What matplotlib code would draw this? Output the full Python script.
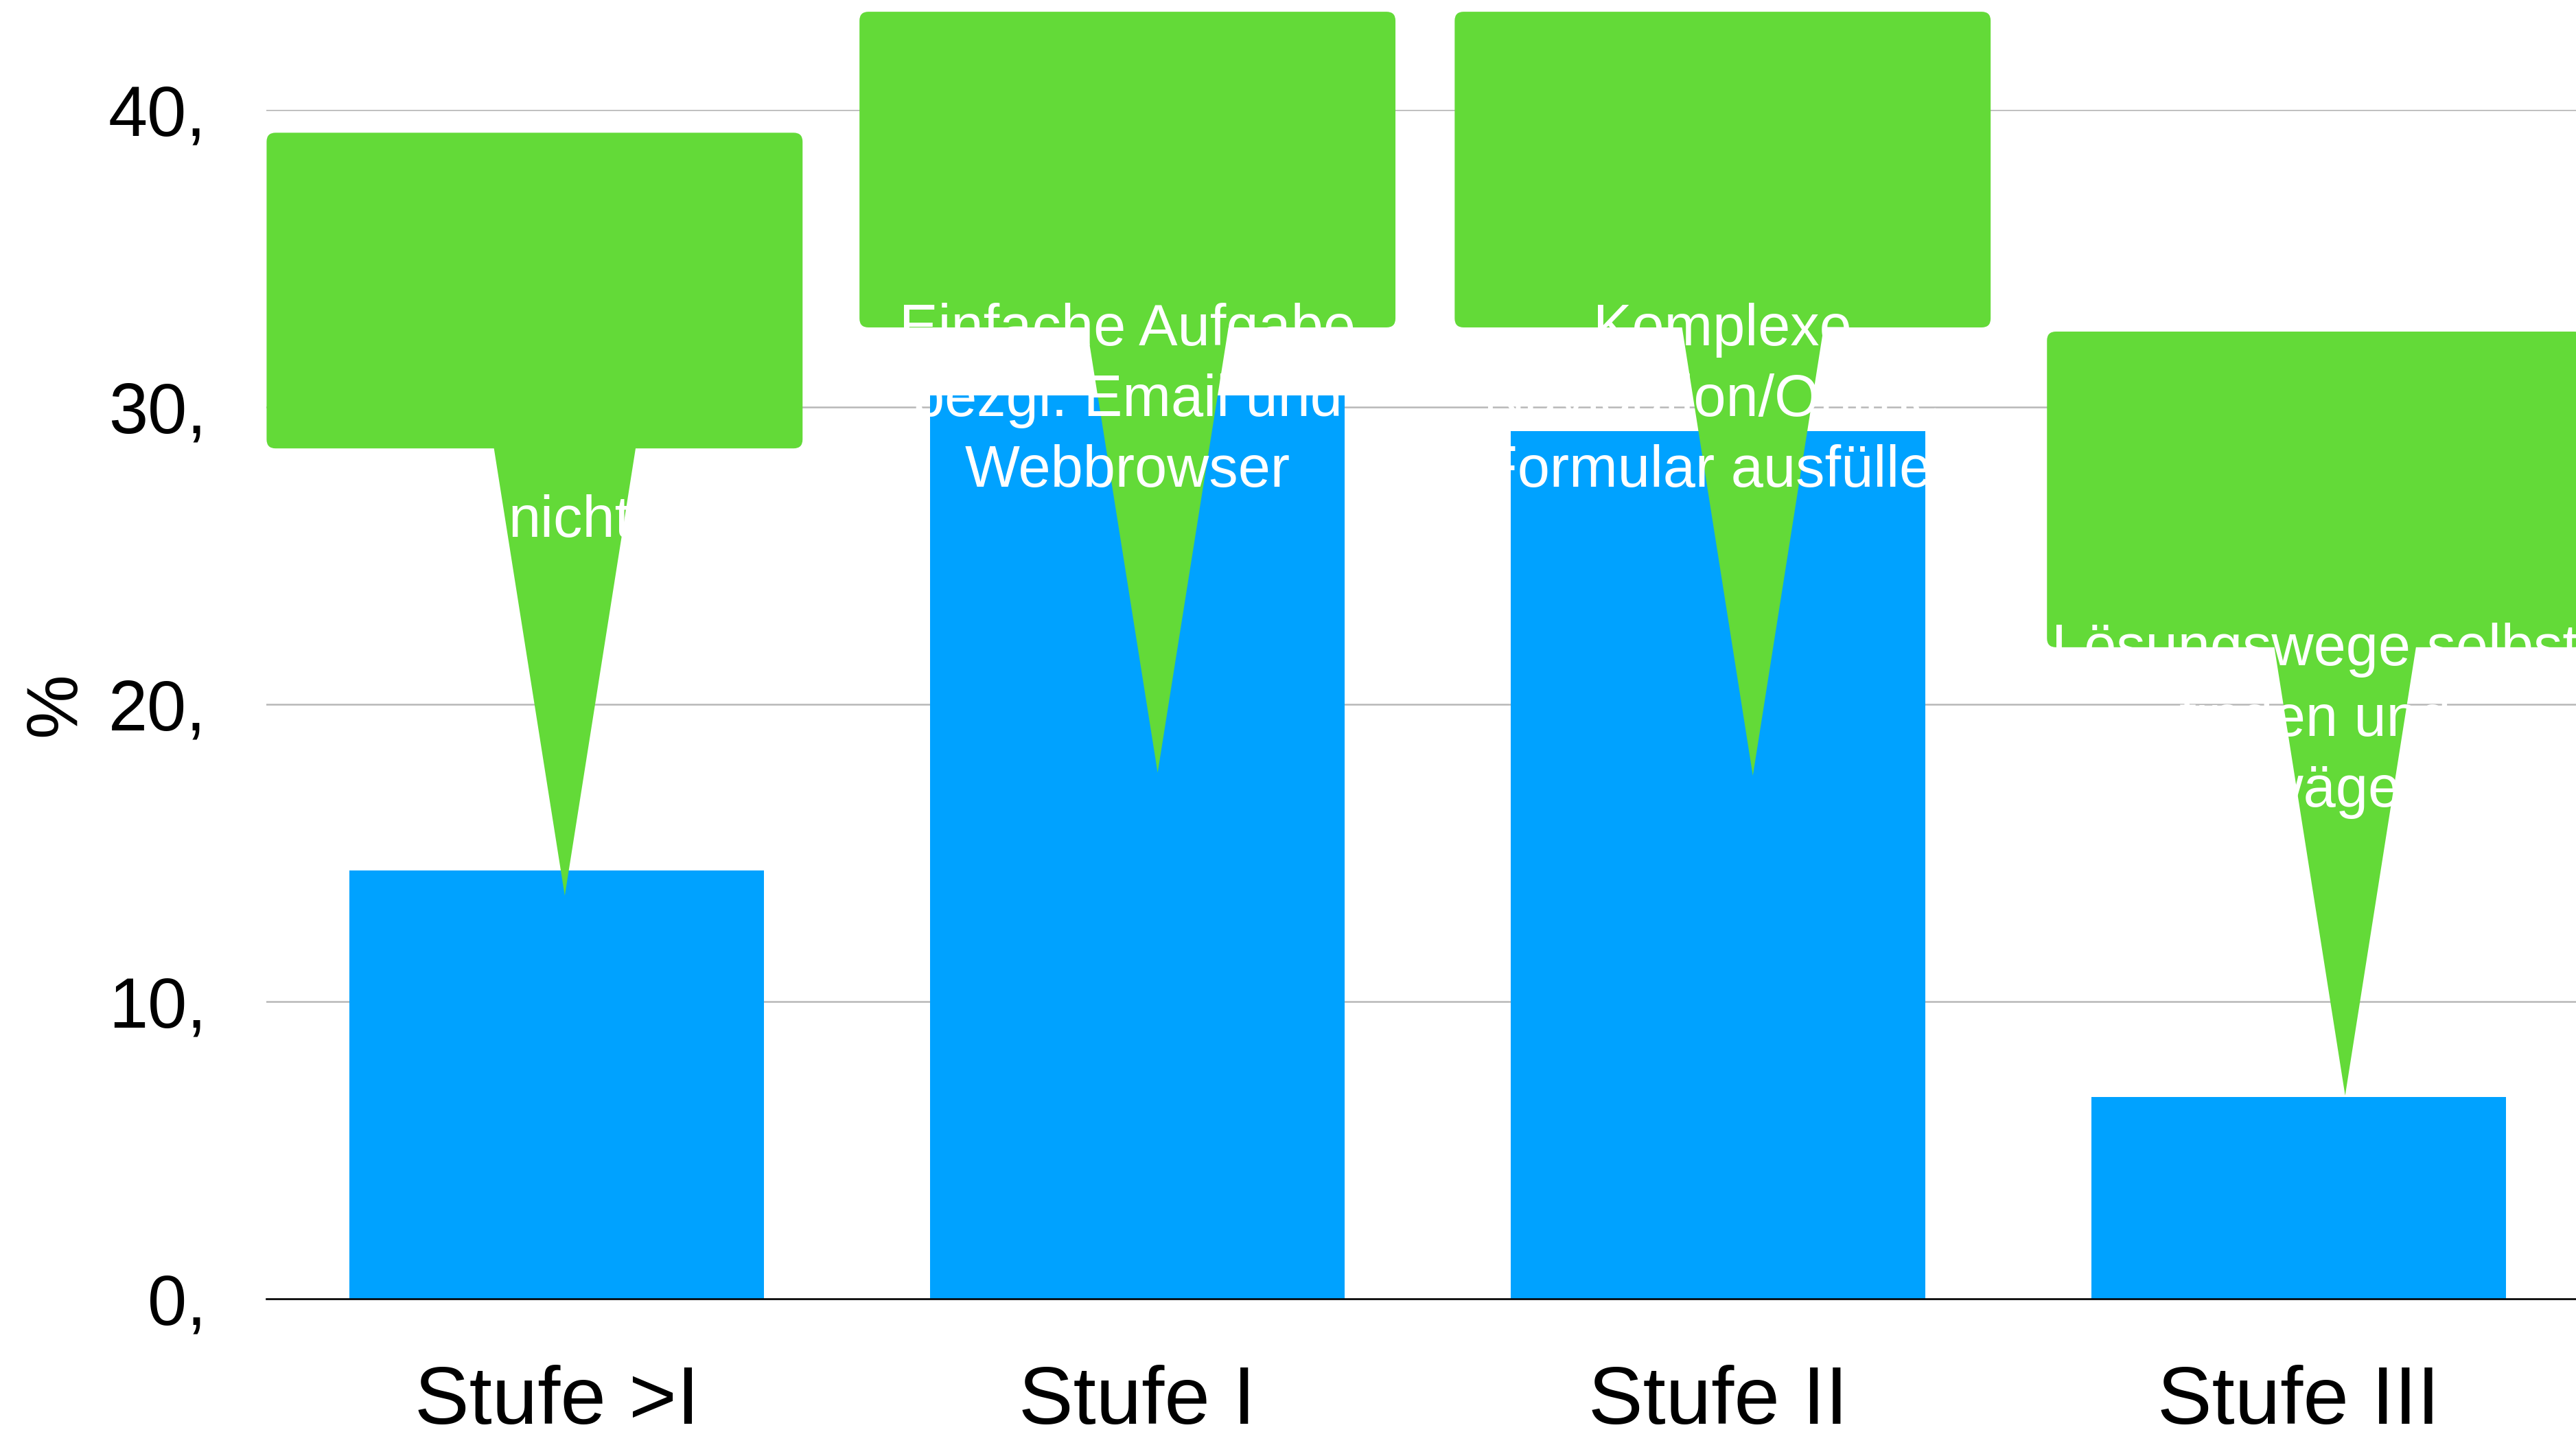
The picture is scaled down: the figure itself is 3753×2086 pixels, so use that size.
import matplotlib
matplotlib.use("Agg")
import matplotlib.pyplot as plt
from matplotlib.patches import FancyBboxPatch, Polygon

# ---------- data ------------------------------------------------------------
categories = ["Stufe >I", "Stufe I", "Stufe II", "Stufe III"]
shares = [14.4, 30.4, 29.2, 6.8]
y_ticks = [0, 10, 20, 30, 40]
y_tick_labels = ["0,", "10,", "20,", "30,", "40,"]

callout_texts = [
    ["nicht"],
    ["Einfache Aufgabe", "bezgl. Email und", "Webbrowser"],
    ["Komplexe", "Navigation/Online-", "Formular ausfüllen"],
    ["Lösungswege selbst", "finden und", "abwägen"],
]

# ---------- layout / style --------------------------------------------------
COLOR_BAR = "#00A2FF"
COLOR_CALLOUT = "#63DA38"
COLOR_GRID = "#B8B8B8"
FONT = "Liberation Sans"

# callout tip positions (data coords) and box bottoms
TIPS = [(0.014, 13.56), (1.035, 17.7), (2.06, 17.6), (3.08, 6.84)]
BOX_BOTTOMS = [28.61, 32.68, 32.68, 21.92]
BOX_W, BOX_H = 0.923, 10.62
TAIL_SHIFT = 0.052      # tail sits right of box centre
TAIL_HALF = 0.126
TEXT_MID_DROP = 2.98    # middle text line baseline below box bottom
LINE_STEP = 2.38
TEXT_DX = [0.06, 0, 0, 0]

W, H = 3753, 2086
fig = plt.figure(figsize=(W / 100, H / 100), dpi=100)
ax = fig.add_axes([388 / W, 194 / H, 3384 / W, 1732 / H])

x = range(len(categories))
ax.bar(x, shares, width=0.715, color=COLOR_BAR, zorder=2)

ax.set_xlim(-0.5, 3.5)
ax.set_ylim(0, 40)
ax.set_axisbelow(True)
ax.yaxis.grid(True, color=COLOR_GRID, lw=1.8)
ax.xaxis.grid(False)

ax.set_xticks(list(x))
ax.set_xticklabels(categories, fontsize=86, family=FONT)
ax.set_yticks(y_ticks)
ax.set_yticklabels(y_tick_labels, fontsize=74, family=FONT)
ax.tick_params(axis="x", length=0, pad=69)
ax.tick_params(axis="y", length=0, pad=63)

for side in ("left", "right", "top"):
    ax.spines[side].set_visible(False)
ax.spines["bottom"].set_color("black")
ax.spines["bottom"].set_linewidth(1.9)
ax.spines["bottom"].set_zorder(4)

ax.set_ylabel("%", fontsize=76, family=FONT)
ax.yaxis.set_label_coords(-0.076, 0.5)

# pixel scale of data units, so the box corners stay round
p0 = ax.transData.transform((0, 0))
px_x = ax.transData.transform((1, 0))[0] - p0[0]
px_y = ax.transData.transform((0, 1))[1] - p0[1]
aspect = px_x / px_y

for lines, (tx, ty), bottom, dx in zip(callout_texts, TIPS, BOX_BOTTOMS, TEXT_DX):
    cx = tx - TAIL_SHIFT
    box = FancyBboxPatch((cx - BOX_W / 2, bottom), BOX_W, BOX_H,
                         boxstyle=f"round,pad=0,rounding_size={13 / px_x}",
                         mutation_aspect=aspect,
                         fc=COLOR_CALLOUT, ec="none", zorder=5, clip_on=False)
    ax.add_patch(box)
    tail = Polygon([(tx - TAIL_HALF, bottom + 0.5), (tx + TAIL_HALF, bottom + 0.5),
                    (tx, ty)], closed=True, fc=COLOR_CALLOUT, ec="none",
                   zorder=5, clip_on=False)
    ax.add_patch(tail)

    n = len(lines)
    first = bottom - TEXT_MID_DROP + (n - 1) / 2 * LINE_STEP
    for i, line in enumerate(lines):
        ax.text(cx + dx, first - i * LINE_STEP, line, color="white",
                fontsize=61, family=FONT, ha="center", va="baseline",
                zorder=6, clip_on=False)

fig.savefig("out.png", dpi=100, facecolor="white")
